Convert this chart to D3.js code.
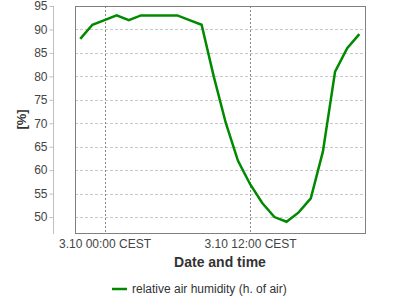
<!DOCTYPE html>
<html>
<head>
<meta charset="utf-8">
<script src="https://cdn.jsdelivr.net/npm/d3@7"></script>
<style>
  body { margin: 0; background: #fff; }
  text { font-family: "Liberation Sans", Arial, sans-serif; }
</style>
</head>
<body>
<div id="vis"></div>
<script>
// hourly readings, 3.09 22:00 .. 3.10 21:00 (UTC used as CEST wall clock)
const hours = [22, 23, 0, 1, 2, 3, 4, 5, 6, 7, 8, 9, 10, 11, 12, 13, 14, 15, 16, 17, 18, 19, 20, 21];
const days = [9, 9, 10, 10, 10, 10, 10, 10, 10, 10, 10, 10, 10, 10, 10, 10, 10, 10, 10, 10, 10, 10, 10, 10];
const humidity = [88, 91, 92, 93, 92, 93, 93, 93, 93, 92, 91, 80, 70, 62, 57, 53, 50, 49, 51, 54, 64, 81, 86, 89];
const yTicks = [50, 55, 60, 65, 70, 75, 80, 85, 90, 95];
const xTicks = [new Date(Date.UTC(2020, 9, 3, 0, 0)), new Date(Date.UTC(2020, 9, 3, 12, 0))];
const seriesName = "relative air humidity (h. of air)";

const data = hours.map(function(h, i) {
  return { t: new Date(Date.UTC(2020, 9, days[i] === 9 ? 2 : 3, h, 0)), v: humidity[i] };
});

const width = 400, height = 300;
const plot = { left: 75, right: 365, top: 6, bottom: 233 };

const svg = d3.select("#vis").append("svg")
  .attr("width", width)
  .attr("height", height);

const x = d3.scaleUtc()
  .domain([new Date(Date.UTC(2020, 9, 2, 21, 34)), new Date(Date.UTC(2020, 9, 3, 21, 28))])
  .range([plot.left, plot.right]);

const y = d3.scaleLinear()
  .domain([46.6, 95])
  .range([plot.bottom, plot.top]);

// horizontal grid
svg.append("g")
  .selectAll("line")
  .data(yTicks)
  .enter()
  .append("line")
  .attr("x1", plot.left)
  .attr("x2", plot.right)
  .attr("y1", function(d) { return Math.round(y(d)) + 0.5; })
  .attr("y2", function(d) { return Math.round(y(d)) + 0.5; })
  .attr("stroke", "#c8c8c8")
  .attr("stroke-dasharray", "3,2");

// vertical grid
svg.append("g")
  .selectAll("line")
  .data(xTicks)
  .enter()
  .append("line")
  .attr("x1", function(d) { return Math.round(x(d)) + 0.5; })
  .attr("x2", function(d) { return Math.round(x(d)) + 0.5; })
  .attr("y1", plot.top)
  .attr("y2", plot.bottom)
  .attr("stroke", "#888")
  .attr("stroke-dasharray", "2,2");

// frame
svg.append("rect")
  .attr("x", plot.left + 0.5)
  .attr("y", plot.top + 0.5)
  .attr("width", plot.right - plot.left)
  .attr("height", plot.bottom - plot.top)
  .attr("fill", "none")
  .attr("stroke", "#808080");

// y axis (detached)
const yAxis = svg.append("g")
  .attr("transform", "translate(53.5,0)")
  .call(d3.axisLeft(y).tickValues(yTicks).tickSize(4).tickPadding(2));
yAxis.select(".domain")
  .attr("d", "M0," + plot.top + "V" + (plot.bottom + 1))
  .attr("stroke", "#c0c0c0");
yAxis.selectAll(".tick line")
  .attr("stroke", "#c0c0c0");
yAxis.selectAll("text")
  .attr("fill", "#444")
  .style("font-size", "12px")
  .style("font-family", "Liberation Sans, Arial, sans-serif");

// x axis labels
const xAxis = svg.append("g")
  .attr("transform", "translate(0," + plot.bottom + ")")
  .call(d3.axisBottom(x).tickValues(xTicks).tickSize(0).tickPadding(6)
    .tickFormat(function(d) { return "3.10 " + d3.utcFormat("%H:%M")(d) + " CEST"; }));
xAxis.select(".domain").remove();
xAxis.selectAll("text")
  .attr("fill", "#444")
  .style("font-size", "12px")
  .style("font-family", "Liberation Sans, Arial, sans-serif");

// axis titles
svg.append("text")
  .attr("x", (plot.left + plot.right) / 2)
  .attr("y", 267)
  .attr("text-anchor", "middle")
  .attr("fill", "#333")
  .style("font-size", "14px")
  .style("font-weight", "bold")
  .text("Date and time");

svg.append("text")
  .attr("transform", "translate(26," + (plot.top + plot.bottom) / 2 + ") rotate(-90)")
  .attr("text-anchor", "middle")
  .attr("fill", "#333")
  .style("font-size", "13px")
  .style("font-weight", "bold")
  .text("[%]");

// series line
const line = d3.line()
  .x(function(d) { return x(d.t); })
  .y(function(d) { return y(d.v); });

svg.append("path")
  .datum(data)
  .attr("d", line)
  .attr("fill", "none")
  .attr("stroke", "#008a00")
  .attr("stroke-width", 2.5);

// legend
const legend = svg.append("g").attr("transform", "translate(112,289)");
legend.append("line")
  .attr("x1", 0)
  .attr("x2", 15)
  .attr("stroke", "#008a00")
  .attr("stroke-width", 2.5);
legend.append("text")
  .attr("x", 20)
  .attr("y", 4)
  .attr("fill", "#333")
  .style("font-size", "12px")
  .text(seriesName);
</script>
</body>
</html>
